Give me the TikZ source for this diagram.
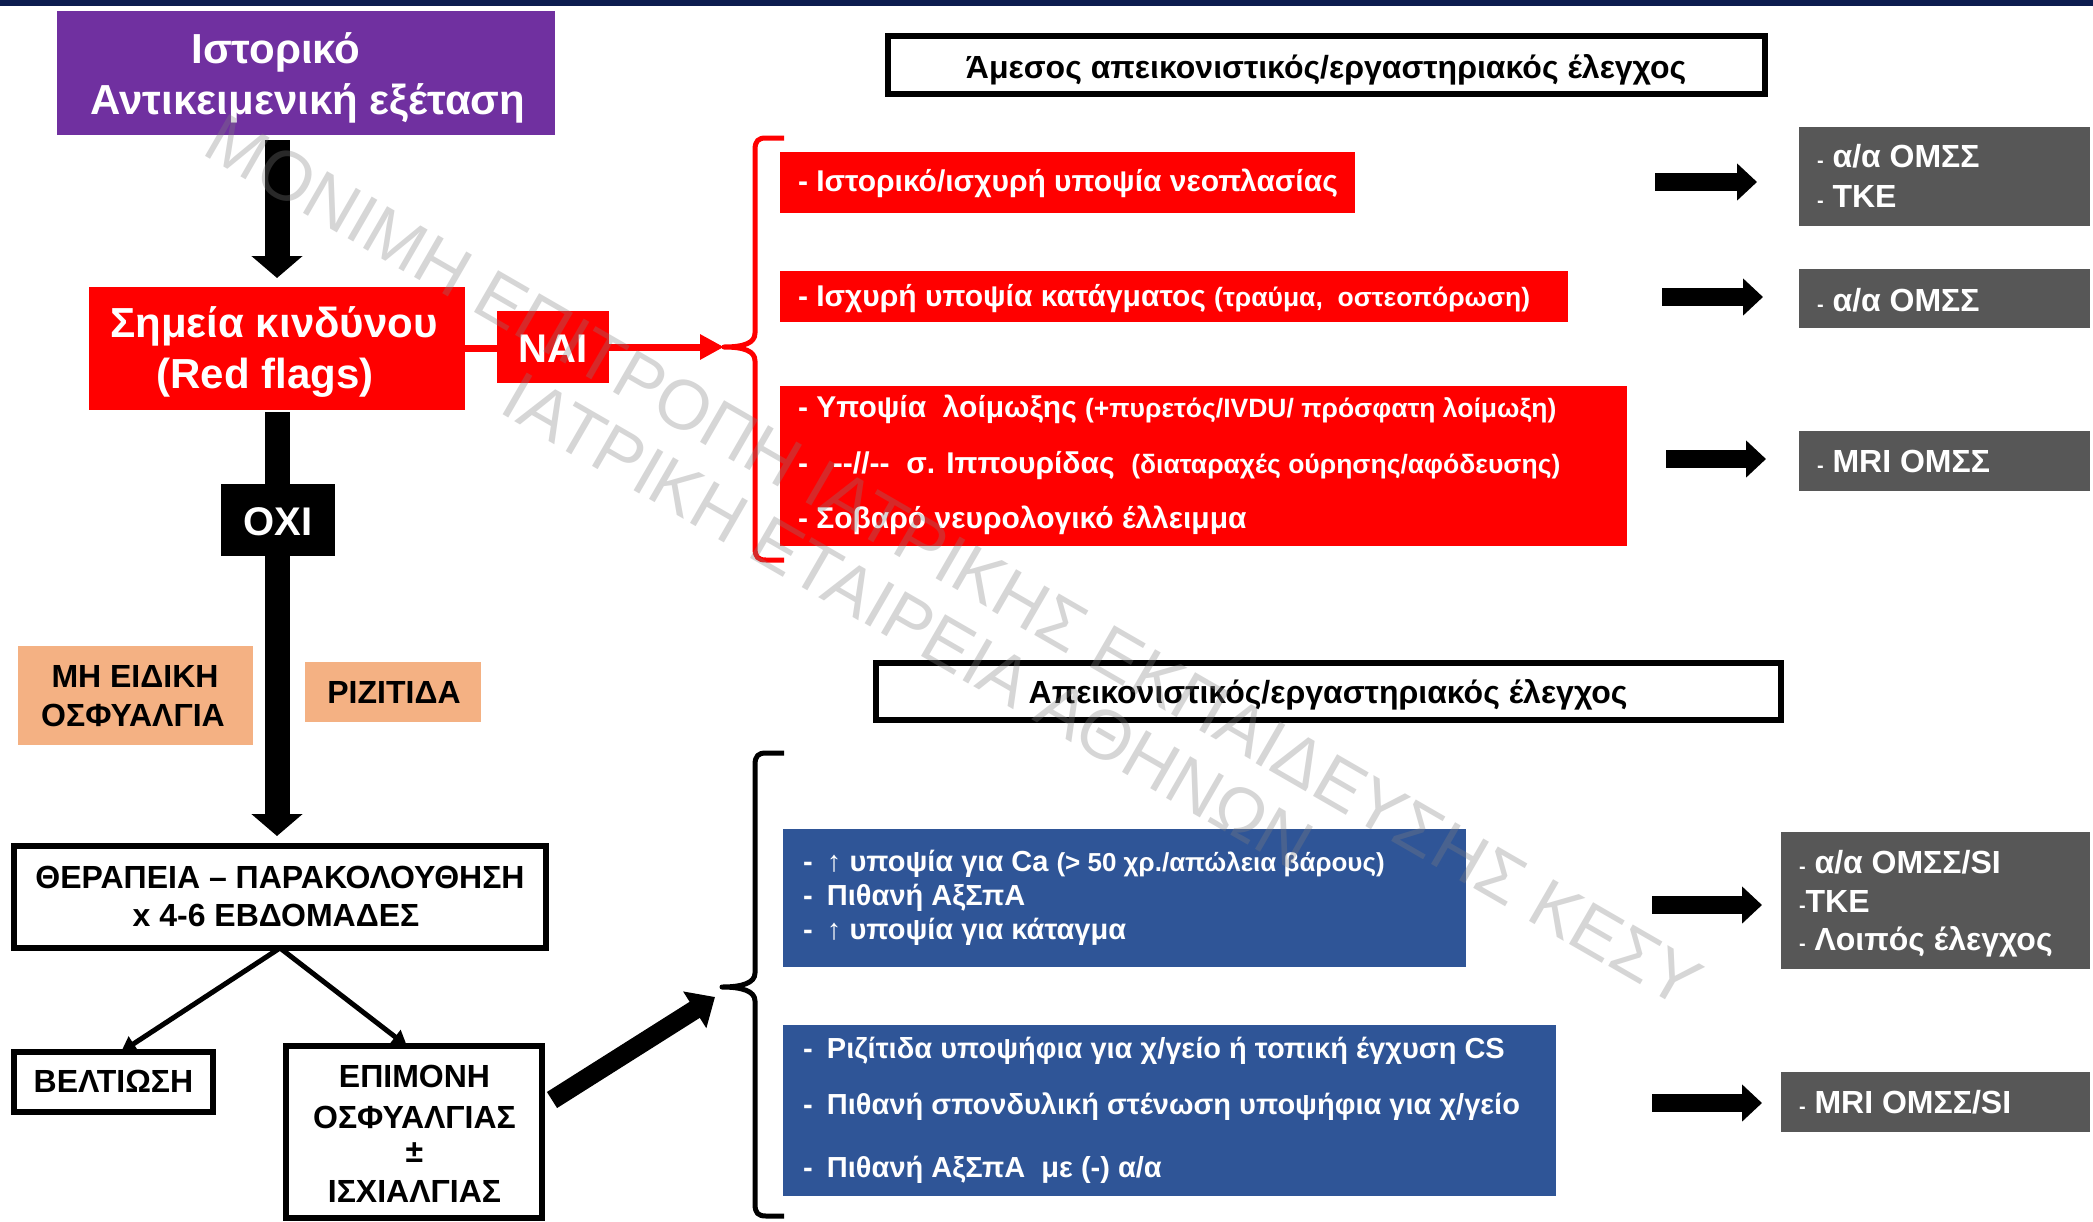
\documentclass[tikz,border=0pt]{standalone}
\usepackage{fontspec}
\setmainfont{Liberation Sans}
\usetikzlibrary{arrows.meta,calc}

\newcommand\fsz[2]{\fontsize{#1pt}{#2pt}\selectfont}
\newcommand\bdash{\makebox[24pt][l]{-}}
\newcommand\gdash{{\fsz{20}{24}\selectfont -}}
\newcommand\rsmall[1]{{\fsz{26.5}{32}#1}}
\newcommand\bsmall[1]{{\fsz{26}{32}#1}}

\definecolor{navy}{HTML}{0D1D4F}
\definecolor{histpurple}{HTML}{7030A0}
\definecolor{flagred}{HTML}{FF0000}
\definecolor{peach}{HTML}{F4B183}
\definecolor{testblue}{HTML}{2F5597}
\definecolor{resultgray}{HTML}{575757}

\tikzset{
  box/.style={rectangle, inner sep=0pt, outer sep=0pt, anchor=north west},
  framebox/.style={box, draw=black, line width=6pt, fill=white},
  fatarrow/.style={line width=25pt, -{Triangle[width=50pt,length=22pt]}},
  blockarrow/.style={line width=18pt, -{Triangle[width=36pt,length=20pt]}},
  diagarrow/.style={line width=19pt, -{Triangle[width=42pt,length=24pt]}},
  slimarrow/.style={line width=5pt, -{Triangle[width=17pt,length=15pt]}},
  redlink/.style={draw=flagred, line width=7pt},
  brace/.style={line width=5pt, line join=round},
  txt/.style={inner sep=0pt, outer sep=0pt},
  wtxt/.style={txt, text=white},
  btxt/.style={txt, text=black},
  redline/.style={wtxt, anchor=base west, font=\bfseries\fsz{30}{36}},
  blueline/.style={wtxt, anchor=base west, font=\bfseries\fsz{29}{35}},
  grayline/.style={wtxt, anchor=base west, font=\bfseries\fsz{32}{38}},
  boxcaps/.style={btxt, anchor=base, font=\bfseries\fsz{32}{38}},
  watermark/.style={txt, text=gray, text opacity=0.32, font=\fsz{70}{80}, rotate=-30}
}

\begin{document}
\begin{tikzpicture}[x=1pt,y=-1pt]
\useasboundingbox (0,0) rectangle (2093,1221);
\fill[white] (0,0) rectangle (2093,1221);
\fill[navy] (0,0) rectangle (2093,6);

% ---------- left column: history, red flags, therapy ----------
\node[box, fill=histpurple, minimum width=498pt, minimum height=124pt] (hist) at (57,11) {};
\node[wtxt, anchor=base, font=\bfseries\fsz{42}{50}] (hist1) at (276,63) {Ιστορικό};
\node[wtxt, anchor=base, font=\bfseries\fsz{42}{50}] (hist2) at (308,114) {Αντικειμενική εξέταση};

\node[box, fill=flagred, minimum width=376pt, minimum height=123pt] (rf) at (89,287) {};
\node[wtxt, anchor=base, font=\bfseries\fsz{42}{50}] (rf1) at (274,337) {Σημεία κινδύνου};
\node[wtxt, anchor=base, font=\bfseries\fsz{42}{50}] (rf2) at (265,388) {(Red flags)};

\draw[fatarrow] ($(hist.south -| rf.north)+(0,5)$) -- ($(rf.north)+(0,-9)$);
\draw[fatarrow] ($(rf.south)+(0,2)$) -- ($(rf.south |- 0,846)+(0,-10)$);

\node[box, fill=black, minimum width=114pt, minimum height=72pt] (oxi) at (221,484) {};
\node[wtxt, anchor=base, font=\bfseries\fsz{40}{48}] (oxit) at (278,535) {ΟΧΙ};

\node[box, fill=peach, minimum width=235pt, minimum height=99pt] (nsp) at (18,646) {};
\node[boxcaps] (nsp1) at (135,687) {ΜΗ ΕΙΔΙΚΗ};
\node[boxcaps] (nsp2) at (133,726) {ΟΣΦΥΑΛΓΙΑ};

\node[box, fill=peach, minimum width=176pt, minimum height=60pt] (rad) at (305,662) {};
\node[boxcaps] (radt) at (394,703) {ΡΙΖΙΤΙΔΑ};

\node[framebox, minimum width=532pt, minimum height=102pt] (th) at (14,846) {};
\node[boxcaps] (th1) at (280,888) {ΘΕΡΑΠΕΙΑ – ΠΑΡΑΚΟΛΟΥΘΗΣΗ};
\node[boxcaps] (th2) at (276,926) {x 4-6 ΕΒΔΟΜΑΔΕΣ};

\node[framebox, minimum width=199pt, minimum height=60pt] (imp) at (14,1052) {};
\node[boxcaps] (impt) at (113.5,1092) {ΒΕΛΤΙΩΣΗ};

\node[framebox, minimum width=256pt, minimum height=172pt] (per) at (286,1046) {};
\node[boxcaps] (per1) at (414.5,1087) {ΕΠΙΜΟΝΗ};
\node[boxcaps] (per2) at (414.5,1128) {ΟΣΦΥΑΛΓΙΑΣ};
\node[boxcaps] (per3) at (414.5,1162) {±};
\node[boxcaps] (per4) at (414.5,1202) {ΙΣΧΙΑΛΓΙΑΣ};

\draw[slimarrow] (th.south) -- ($(imp.north)+(7.5,0)$);
\draw[slimarrow] (th.south) -- ($(per.north)+(-7,0)$);

% ---------- YES branch ----------
\node[box, fill=flagred, minimum width=112pt, minimum height=72pt] (nai) at (497,311) {};
\node[wtxt, anchor=base, font=\bfseries\fsz{40}{48}] (nait) at (553,362) {ΝΑΙ};
\draw[redlink] (rf.east) -- (rf.east -| nai.west);
\coordinate (rbtip) at (724,347);
\draw[redlink, -{Triangle[width=24pt,length=24pt]}] (nai.east |- rbtip) -- (rbtip);

\draw[flagred, brace] (784,138) -- (766,138) .. controls (758,138) and (755,141) .. (755,150)
  -- (755,333) .. controls (755,343) and (744,347) .. (rbtip)
  .. controls (744,347) and (755,351) .. (755,361)
  -- (755,548) .. controls (755,557) and (758,560) .. (766,560) -- (784,560);

\node[framebox, minimum width=877pt, minimum height=58pt] (t1) at (888,36) {};
\node[btxt, anchor=base, font=\bfseries\fsz{32}{38}] (t1t) at (1326,78) {Άμεσος απεικονιστικός/εργαστηριακός έλεγχος};

\node[box, fill=flagred, minimum width=575pt, minimum height=61pt] (r1) at (780,152) {};
\node[redline] (r1a) at (798,191) {- Ιστορικό/ισχυρή υποψία νεοπλασίας};

\node[box, fill=flagred, minimum width=788pt, minimum height=51pt] (r2) at (780,271) {};
\node[redline] (r2a) at (798,306) {- Ισχυρή υποψία κατάγματος \rsmall{(τραύμα,\ \ οστεοπόρωση)}};

\node[box, fill=flagred, minimum width=847pt, minimum height=160pt] (r3) at (780,386) {};
\node[redline] (r3a) at (798,417) {- Υποψία\ \ λοίμωξης \rsmall{(+πυρετός/IVDU/ πρόσφατη λοίμωξη)}};
\node[redline] (r3b) at (798,473) {-\ \ \ -{}-//-{}-\ \ σ. Ιππουρίδας\ \ \rsmall{(διαταραχές ούρησης/αφόδευσης)}};
\node[redline] (r3c) at (798,528) {- Σοβαρό νευρολογικό έλλειμμα};

\node[box, fill=resultgray, minimum width=291pt, minimum height=99pt] (g1) at (1799,127) {};
\node[grayline] (g1a) at (1817,167) {\gdash{} α/α ΟΜΣΣ};
\node[grayline] (g1b) at (1817,207) {\gdash{} ΤΚΕ};

\node[box, fill=resultgray, minimum width=291pt, minimum height=59pt] (g2) at (1799,269) {};
\node[grayline] (g2a) at (1817,311) {\gdash{} α/α ΟΜΣΣ};

\node[box, fill=resultgray, minimum width=291pt, minimum height=60pt] (g3) at (1799,431) {};
\node[grayline] (g3a) at (1817,472) {\gdash{} MRI ΟΜΣΣ};

\draw[blockarrow] ($(g1.west)+(-144,5.5)$) -- ($(g1.west)+(-42,5.5)$);
\draw[blockarrow] ($(g2.west)+(-137,-1.5)$) -- ($(g2.west)+(-36,-1.5)$);
\draw[blockarrow] ($(g3.west)+(-133,-2)$) -- ($(g3.west)+(-33,-2)$);

% ---------- persistent pain branch ----------
\node[framebox, minimum width=905pt, minimum height=57pt] (t2) at (876,663) {};
\node[btxt, anchor=base, font=\bfseries\fsz{32}{38}] (t2t) at (1328,703) {Απεικονιστικός/εργαστηριακός έλεγχος};

\coordinate (bbtip) at (722,987);
\draw[black, brace] (784,753) -- (766,753) .. controls (758,753) and (755,756) .. (755,765)
  -- (755,973) .. controls (755,983) and (742,987) .. (bbtip)
  .. controls (742,987) and (755,991) .. (755,1001)
  -- (755,1204) .. controls (755,1213) and (758,1216) .. (766,1216) -- (784,1216);

\draw[diagarrow] ($(per.east)+(10,-32)$) -- ($(bbtip)+(-7,10)$);

\node[box, fill=testblue, minimum width=683pt, minimum height=138pt] (b1) at (783,829) {};
\node[blueline] (b1a) at (803,871) {\bdash↑ υποψία για Ca \bsmall{(> 50 χρ./απώλεια βάρους)}};
\node[blueline] (b1b) at (803,905) {\bdash Πιθανή ΑξΣπΑ};
\node[blueline] (b1c) at (803,939) {\bdash↑ υποψία για κάταγμα};

\node[box, fill=testblue, minimum width=773pt, minimum height=171pt] (b2) at (783,1025) {};
\node[blueline] (b2a) at (803,1058) {\bdash Ριζίτιδα υποψήφια για χ/γείο ή τοπική έγχυση CS};
\node[blueline] (b2b) at (803,1114) {\bdash Πιθανή σπονδυλική στένωση υποψήφια για χ/γείο};
\node[blueline] (b2c) at (803,1177) {\bdash Πιθανή ΑξΣπΑ\ \ με (-) α/α};

\node[box, fill=resultgray, minimum width=309pt, minimum height=137pt] (g4) at (1781,832) {};
\node[grayline] (g4a) at (1799,873) {\gdash{} α/α ΟΜΣΣ/SI};
\node[grayline] (g4b) at (1799,912) {\gdash ΤΚΕ};
\node[grayline] (g4c) at (1799,950) {\gdash{} Λοιπός έλεγχος};

\node[box, fill=resultgray, minimum width=309pt, minimum height=60pt] (g5) at (1781,1072) {};
\node[grayline] (g5a) at (1799,1113) {\gdash{} MRI ΟΜΣΣ/SI};

\draw[blockarrow] ($(g4.west)+(-129,4.5)$) -- ($(g4.west)+(-19,4.5)$);
\draw[blockarrow] ($(g5.west)+(-129,1)$) -- ($(g5.west)+(-19,1)$);

% ---------- watermark ----------
\node[watermark] (wm1) at (954,561) {ΜΟΝΙΜΗ ΕΠΙΤΡΟΠΗ ΙΑΤΡΙΚΗΣ ΕΚΠΑΙΔΕΥΣΗΣ ΚΕΣΥ};
\node[watermark] (wm2) at (908,621) {ΙΑΤΡΙΚΗ ΕΤΑΙΡΕΙΑ ΑΘΗΝΩΝ};
\end{tikzpicture}
\end{document}
